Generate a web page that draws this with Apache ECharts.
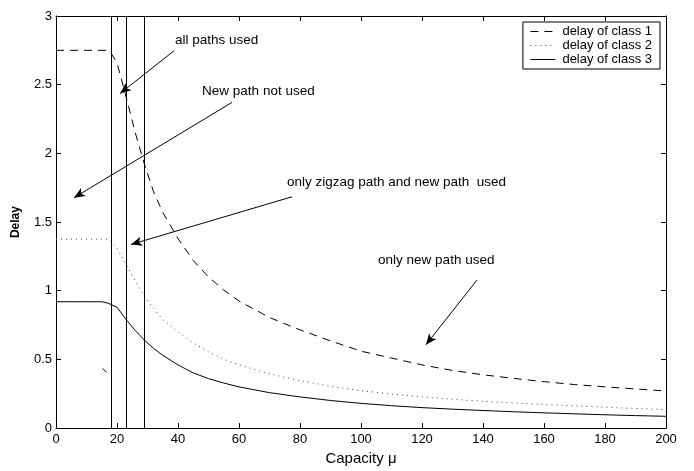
<!DOCTYPE html>
<html style="height: 100%">
<head>
    <meta charset="utf-8">
</head>
<body style="height: 100%; margin: 0; background: #fff">
<div id="main" style="width: 694px; height: 471px"></div>

<script type="text/javascript" src="https://fastly.jsdelivr.net/npm/echarts@6/dist/echarts.min.js"></script>

<script type="text/javascript">
    // capacity values (x) shared by the three delay curves
    var capacity = [0, 5, 10, 15, 17, 18, 20, 23, 26, 29, 32, 35, 40, 45, 50, 55, 60, 70, 80, 90, 100,
        110, 120, 130, 140, 150, 160, 170, 180, 190, 200];
    var delayClass1 = [2.75, 2.75, 2.75, 2.75, 2.75, 2.73, 2.66, 2.41, 2.15, 1.92, 1.72, 1.57, 1.38, 1.22, 1.10, 1.005, 0.925, 0.805, 0.715, 0.635, 0.56,
        0.51, 0.46, 0.42, 0.388, 0.362, 0.338, 0.317, 0.30, 0.285, 0.27];
    var delayClass2 = [1.375, 1.375, 1.375, 1.375, 1.375, 1.36, 1.31, 1.19, 1.07, 0.96, 0.87, 0.79, 0.70, 0.62, 0.555, 0.502, 0.46, 0.395, 0.345, 0.305, 0.272,
        0.248, 0.228, 0.21, 0.195, 0.183, 0.172, 0.162, 0.152, 0.143, 0.135];
    var delayClass3 = [0.92, 0.92, 0.92, 0.92, 0.91, 0.90, 0.88, 0.79, 0.71, 0.64, 0.58, 0.53, 0.46, 0.402, 0.36, 0.328, 0.30, 0.258, 0.227, 0.201, 0.18,
        0.163, 0.149, 0.138, 0.128, 0.119, 0.111, 0.104, 0.097, 0.091, 0.086];

    // regime boundaries
    var boundaries = [18, 23, 29];

    // annotation arrows: [fromX, fromY, toX, toY]
    var arrows = [
        [38.7, 2.747, 21.0, 2.436],
        [57.7, 2.371, 5.9, 1.677],
        [77.4, 1.684, 24.6, 1.337],
        [138.0, 1.077, 121.3, 0.607]
    ];
    var strayDash = [[15.3, 0.434], [16.6, 0.405]];

    // annotation texts: [text, x, y] (left edge, middle)
    var notes = [
        ['all paths used', 39.0, 2.82],
        ['New path not used', 47.9, 2.45],
        ['only zigzag path and new path  used', 75.7, 1.786],
        ['only new path used', 105.6, 1.222]
    ];

    var xTicks = { min: 0, max: 200, interval: 20 };
    var yTicks = { min: 0, max: 3, interval: 0.5 };

    function zip(xs, ys) {
        return xs.map(function (x, i) { return [x, ys[i]]; });
    }

    var font = 'Liberation Sans, Arial, sans-serif';

    var chartDom = document.getElementById('main');
    var myChart = echarts.init(chartDom);

    var axisCommon = {
        type: 'value',
        axisLine: { show: true, onZero: false, lineStyle: { color: '#000', width: 1 } },
        axisTick: { show: true, inside: true, length: 5, lineStyle: { color: '#000' } },
        splitLine: { show: false }
    };

    var option = {
        animation: false,
        backgroundColor: '#fff',
        textStyle: { fontFamily: font },
        grid: { left: 56, right: 28, top: 16, bottom: 41 },
        legend: {
            orient: 'vertical',
            right: 34,
            top: 22,
            itemWidth: 25,
            itemHeight: 11,
            itemGap: 1,
            padding: [3, 8, 3, 7],
            borderColor: '#000',
            borderWidth: 1,
            backgroundColor: '#fff',
            itemStyle: { opacity: 0 },
            lineStyle: { width: 1 },
            textStyle: { fontSize: 13, lineHeight: 11, color: '#000', fontFamily: font, padding: [0, 0, 0, 2] },
            data: ['delay of class 1', 'delay of class 2', 'delay of class 3']
        },
        xAxis: [
            Object.assign({}, axisCommon, {
                min: xTicks.min, max: xTicks.max, interval: xTicks.interval,
                name: 'Capacity \u03bc',
                nameLocation: 'middle',
                nameGap: 19,
                nameTextStyle: { fontSize: 15, color: '#000', fontFamily: font },
                axisLabel: { color: '#000', fontSize: 13, margin: 5, fontFamily: font }
            }),
            Object.assign({}, axisCommon, {
                position: 'top',
                min: xTicks.min, max: xTicks.max, interval: xTicks.interval,
                axisLabel: { show: false }
            })
        ],
        yAxis: [
            Object.assign({}, axisCommon, {
                min: yTicks.min, max: yTicks.max, interval: yTicks.interval,
                name: 'Delay',
                nameLocation: 'middle',
                nameGap: 34,
                nameTextStyle: { fontSize: 12, fontWeight: 'bold', color: '#000', fontFamily: font },
                axisLabel: { color: '#000', fontSize: 13, margin: 4, fontFamily: font }
            }),
            Object.assign({}, axisCommon, {
                position: 'right',
                min: yTicks.min, max: yTicks.max, interval: yTicks.interval,
                axisLabel: { show: false }
            })
        ],
        series: [
            {
                name: 'delay of class 1',
                type: 'line',
                showSymbol: false,
                symbol: 'none',
                data: zip(capacity, delayClass1),
                lineStyle: { color: '#000', width: 1, type: [8, 6] },
                itemStyle: { color: '#000' }
            },
            {
                name: 'delay of class 2',
                type: 'line',
                showSymbol: false,
                symbol: 'none',
                data: zip(capacity, delayClass2),
                lineStyle: { color: '#444', width: 1, type: [1, 4] },
                itemStyle: { color: '#444' }
            },
            {
                name: 'delay of class 3',
                type: 'line',
                showSymbol: false,
                symbol: 'none',
                data: zip(capacity, delayClass3),
                lineStyle: { color: '#000', width: 1 },
                itemStyle: { color: '#000' },
                markLine: {
                    silent: true,
                    symbol: 'none',
                    label: { show: false },
                    lineStyle: { color: '#000', width: 1, type: 'solid' },
                    data: boundaries.map(function (b) { return { xAxis: b }; })
                }
            },
            {
                type: 'line',
                data: [],
                markLine: {
                    silent: true,
                    symbol: ['none', 'arrow'],
                    symbolSize: [7, 11],
                    label: { show: false },
                    lineStyle: { color: '#000', width: 1, type: 'solid' },
                    data: arrows.map(function (a) {
                        return [{ coord: [a[0], a[1]] }, { coord: [a[2], a[3]] }];
                    }).concat([[
                        { coord: strayDash[0], symbol: 'none' },
                        { coord: strayDash[1], symbol: 'none' }
                    ]])
                },
                markPoint: {
                    silent: true,
                    symbol: 'circle',
                    symbolSize: 0,
                    label: {
                        show: true,
                        position: [0, 0],
                        align: 'left',
                        verticalAlign: 'middle',
                        color: '#000',
                        fontSize: 13.5,
                        fontFamily: font,
                        formatter: function (p) { return p.name; }
                    },
                    data: notes.map(function (n) {
                        return { name: n[0], coord: [n[1], n[2]] };
                    })
                }
            }
        ]
    };

    myChart.setOption(option);
</script>
</body>
</html>
